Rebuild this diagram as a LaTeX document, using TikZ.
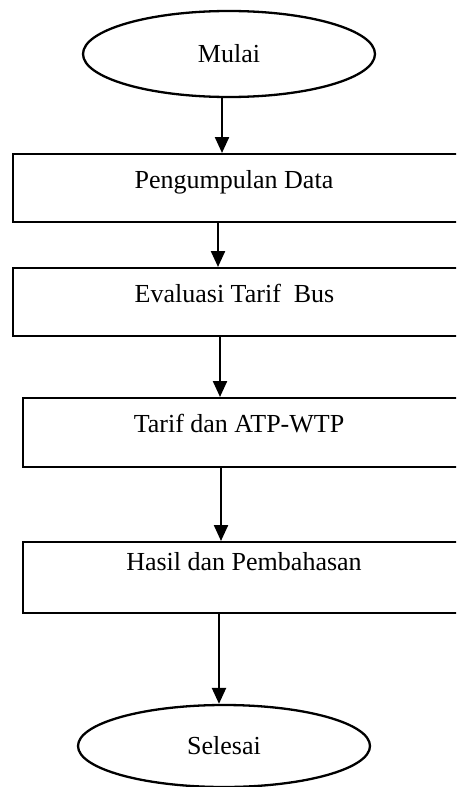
\documentclass[tikz,border=0pt]{standalone}
\usepackage{fontspec}
\setmainfont{Liberation Serif}
\usetikzlibrary{arrows.meta,shapes.geometric}
\begin{document}
\begin{tikzpicture}[x=1pt,y=-1pt,
  box/.style={draw, line width=2.3pt, rectangle, anchor=north west, inner sep=0pt, minimum width=470pt},
  term/.style={draw, line width=2.3pt, ellipse, inner sep=0pt, minimum width=292pt, font=\fontsize{26}{30}\selectfont},
  lbl/.style={font=\fontsize{26}{30}\selectfont, inner sep=0pt},
  arr/.style={line width=2.3pt, -{Triangle[length=16pt,width=14pt]}}]
\useasboundingbox (0,0) rectangle (456,787);
\clip (0,0) rectangle (456,787);
% terminals
\node[term, minimum height=86pt] (m) at (229,54) {Mulai};
\node[term, minimum height=82pt] (s) at (224,746) {Selesai};
% process boxes
\node[box, minimum height=68pt] (b1) at (12,153) {};
\node[box, minimum height=68pt] (b2) at (12,267) {};
\node[box, minimum height=69pt] (b3) at (22,397) {};
\node[box, minimum height=71pt] (b4) at (22,541) {};
% labels
\node[lbl] (t1) at (234,182.5) {Pengumpulan Data};
\node[lbl] (t2) at (234.5,293.5) {Evaluasi Tarif\ \ Bus};
\node[lbl] (t3) at (239,423.5) {Tarif dan ATP-WTP};
\node[lbl] (t4) at (244,561.5) {Hasil dan Pembahasan};
% connectors
\draw[arr] ([xshift=-7pt]m.south) -- ([xshift=-7pt]m.south |- b1.north);
\draw[arr] ([xshift=206pt]b1.south west) -- ([xshift=206pt]b1.south west |- b2.north);
\draw[arr] ([xshift=208pt]b2.south west) -- ([xshift=208pt]b2.south west |- b3.north);
\draw[arr] ([xshift=199pt]b3.south west) -- ([xshift=199pt]b3.south west |- b4.north);
\draw[arr] ([xshift=197pt]b4.south west) -- ([xshift=197pt]b4.south west |- s.north);
\end{tikzpicture}
\end{document}
